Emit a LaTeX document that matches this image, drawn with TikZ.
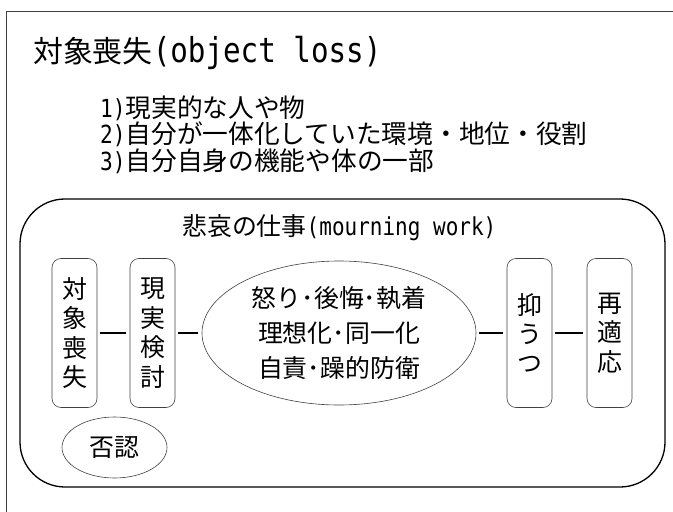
\documentclass[tikz,border=0pt]{standalone}
\usepackage{fontspec}
\setmainfont{Noto Sans CJK JP}
\newfontfamily\lat[FakeStretch=0.85]{DejaVu Sans Mono}
\usetikzlibrary{shapes.geometric}
\begin{document}
\begin{tikzpicture}[x=1bp,y=-1bp,
  frameline/.style={line width=0.9bp, draw=black!75},
  panel/.style={draw, line width=1.3bp, rounded corners=45bp},
  vbox/.style={draw=black!75, line width=0.6bp, rounded corners=9bp, minimum width=45bp, minimum height=149bp, inner sep=0pt, align=center, font=\fontsize{25}{29.5}\selectfont},
  oval/.style={draw=black!75, line width=0.6bp, ellipse, inner sep=0pt},
  link/.style={line width=1.4bp, shorten <=2.5bp, shorten >=4bp},
  txt/.style={anchor=west, inner sep=0pt}]
\useasboundingbox (0,0) rectangle (673,512);
% outer open frame
\draw[frameline] (6,512) -- (6,11) -- (673,11);
% title and list
\node[txt, font=\fontsize{30}{30}\selectfont] (title) at (33,53) {対象喪失{\lat\fontsize{34.5}{34.5}\selectfont(object loss)}};
\node[txt, font=\fontsize{25.8}{25.8}\selectfont] (i1) at (100,108) {{\lat\fontsize{25}{25}\selectfont 1)}現実的な人や物};
\node[txt, font=\fontsize{25.8}{25.8}\selectfont] (i2) at (100,134.5) {{\lat\fontsize{25}{25}\selectfont 2)}自分が一体化していた環境・地位・役割};
\node[txt, font=\fontsize{25.8}{25.8}\selectfont] (i3) at (100,161) {{\lat\fontsize{25}{25}\selectfont 3)}自分自身の機能や体の一部};
% mourning work panel
\draw[panel] (20,199) rectangle (665,487);
\node[txt, font=\fontsize{25}{25}\selectfont] (work) at (182,228) {悲哀の仕事{\lat\fontsize{24.8}{24.8}\selectfont(mourning work)}};
\node[vbox] (loss) at (74.5,333) {対\\象\\喪\\失};
\node[vbox] (test) at (152.5,333) {現\\実\\検\\討};
\node[oval, minimum width=274bp, minimum height=144bp, align=center, font=\fontsize{25}{35}\selectfont] (emo) at (339,333) {怒り･後悔･執着\\理想化･同一化\\自責･躁的防衛};
\node[vbox] (dep) at (529.5,333) {抑\\う\\つ};
\node[vbox] (readapt) at (609.5,333) {再\\適\\応};
\node[oval, minimum width=105bp, minimum height=61bp, font=\fontsize{25}{25}\selectfont] (deny) at (114.5,447.5) {否認};
\draw[link] (loss) -- (test);
\draw[link] (test) -- (emo);
\draw[link] (emo) -- (dep);
\draw[link] (dep) -- (readapt);
\end{tikzpicture}
\end{document}
